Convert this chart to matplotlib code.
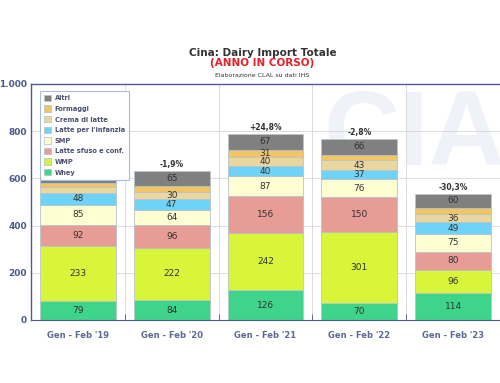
import matplotlib.pyplot as plt
import numpy as np

# periodi e categorie
periods = ["Gen - Feb '19", "Gen - Feb '20", "Gen - Feb '21", "Gen - Feb '22", "Gen - Feb '23"]
series = ["Whey", "WMP", "Latte sfuso e conf.", "SMP", "Latte per l'infanzia",
          "Crema di latte", "Formaggi", "Altri"]
colors = ["#3ed58a", "#d8f53a", "#e89c96", "#fefed2", "#6fd3f7",
          "#ead7a0", "#f2c462", "#808080"]

whey = [79, 84, 126, 70, 114]
wmp = [233, 222, 242, 301, 96]
latte_sfuso = [92, 96, 156, 150, 80]
smp = [85, 64, 87, 76, 75]
infanzia = [48, 47, 40, 37, 49]
crema = [25, 30, 40, 43, 36]
formaggi = [20, 24, 31, 24, 25]
altri = [62, 65, 67, 66, 60]
variazione = ["", "-1,9%", "+24,8%", "-2,8%", "-30,3%"]

values = [whey, wmp, latte_sfuso, smp, infanzia, crema, formaggi, altri]

fig = plt.figure(figsize=(5, 3.83), dpi=100)
ax = fig.add_axes([0.062, 0.1645, 0.938, 0.6162])

# watermark
ax.text(0.625, 0.985, "CIAL", transform=ax.transAxes, fontsize=76, fontweight="bold",
        family="Liberation Sans", color="#eff2f8", ha="left", va="top", zorder=0,
        clip_on=True)

x = np.arange(len(periods))
bottom = np.zeros(len(periods))
handles = []
for name, vals, c in zip(series, values, colors):
    v = np.array(vals)
    b = ax.bar(x, v, 0.81, bottom=bottom, color=c, edgecolor="#b8c4cc", linewidth=0.6,
               label=name, zorder=2)
    handles.append(b)
    for xi, yi, bi in zip(x, v, bottom):
        if yi >= 28:
            ax.text(xi, bi + yi / 2, str(yi), ha="center", va="center", fontsize=6.5,
                    color="#333333", zorder=3)
    bottom += v

for xi, tot, lab in zip(x, bottom, variazione):
    if lab:
        ax.text(xi, tot + 8, lab, ha="center", va="bottom", fontsize=5.5,
                fontweight="bold", color="#333333", zorder=3)

ax.set_xlim(-0.5, 4.5)
ax.set_ylim(0, 1000)
ax.set_yticks([0, 200, 400, 600, 800, 1000])
ax.set_yticklabels(["0", "200", "400", "600", "800", "1.000"])
ax.set_xticks(x)
ax.set_xticklabels(periods)
ax.set_xticks(np.arange(0.5, 4.5, 1), minor=True)
ax.tick_params(axis="x", which="major", length=0, pad=8, labelsize=6, labelcolor="#5a6a90")
ax.tick_params(axis="x", which="minor", length=4, color="#4a5a8a", direction="in")
ax.tick_params(axis="y", length=0, labelsize=6.5, labelcolor="#4a5a8a", pad=3)
for lab in ax.get_xticklabels() + ax.get_yticklabels():
    lab.set_fontweight("bold")

ax.grid(axis="y", color="#dcdcdc", linewidth=0.7, zorder=0)
ax.grid(axis="x", which="minor", color="#dcdcdc", linewidth=0.7, zorder=0)
ax.set_axisbelow(True)
for s in ["left", "top"]:
    ax.spines[s].set_color("#4a5a9a")
    ax.spines[s].set_linewidth(1.0)
ax.spines["bottom"].set_color("#4a5a9a")
ax.spines["right"].set_visible(False)

leg = ax.legend(handles[::-1], series[::-1], loc="upper left", bbox_to_anchor=(0.012, 0.985),
                fontsize=4.8, frameon=True, fancybox=False, edgecolor="#a8bcdc",
                handlelength=1.1, handleheight=1.1, handletextpad=0.5, labelspacing=0.62,
                borderpad=0.6, labelcolor="#4a5070", framealpha=1.0)
leg.get_frame().set_linewidth(0.8)
leg.set_zorder(5)
for t in leg.get_texts():
    t.set_fontweight("bold")

fig.text(0.525, 0.862, "Cina: Dairy Import Totale", ha="center", va="center",
         fontsize=7.5, fontweight="bold", color="#333333")
fig.text(0.525, 0.836, "(ANNO IN CORSO)", ha="center", va="center",
         fontsize=7.5, fontweight="bold", color="#e8202a")
fig.text(0.525, 0.804, "Elaborazione CLAL su dati IHS", ha="center", va="center",
         fontsize=4.5, color="#333333")

fig.savefig("out.png", dpi=100)
